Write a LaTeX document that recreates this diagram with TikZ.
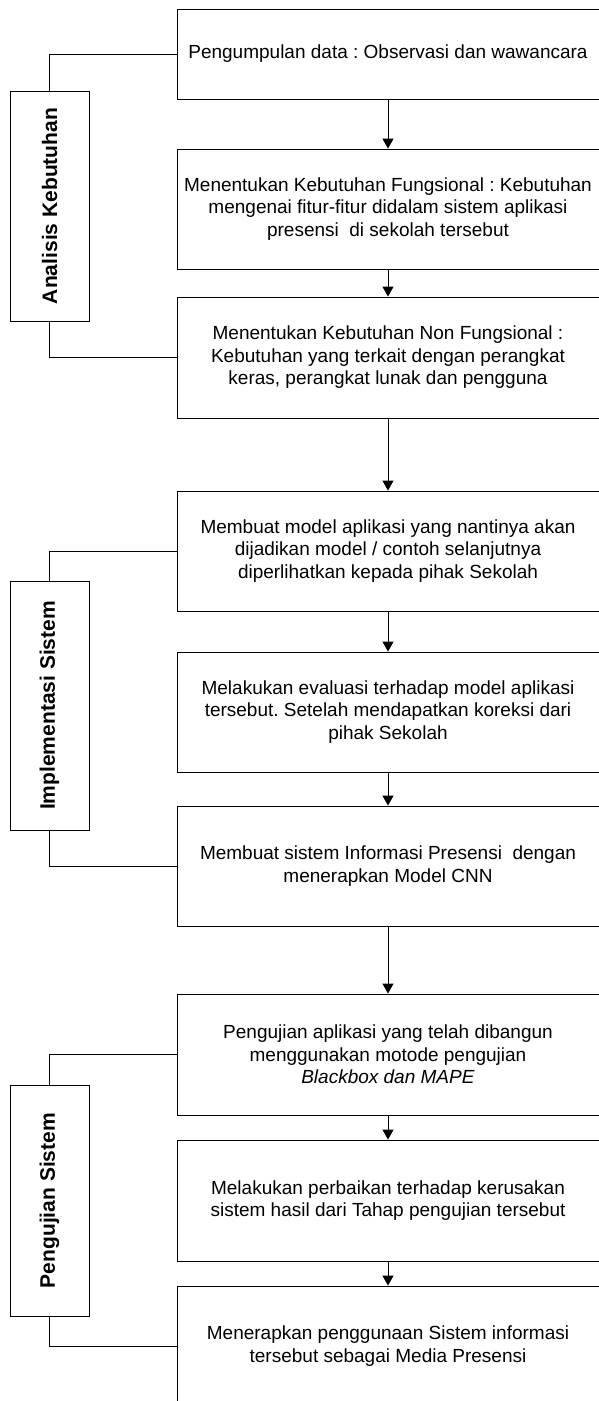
\documentclass[tikz,border=0pt]{standalone}
\usepackage{fontspec}
\setmainfont{Liberation Sans}
\usetikzlibrary{arrows.meta}
\frenchspacing
\begin{document}
\begin{tikzpicture}[x=1pt,y=-1pt,
  every node/.style={font=\fontsize{19}{22.5}\selectfont},
  stepbox/.style={draw=black,line width=0.9pt,minimum width=422pt,inner sep=0pt,align=center},
  sidebox/.style={draw=black,line width=0.9pt,minimum width=79pt,inner sep=0pt},
  sidelabel/.style={rotate=90,font=\fontsize{21}{24}\selectfont\bfseries},
  arr/.style={draw=black,line width=0.9pt,-{Triangle[width=11pt,length=10pt]}},
  link/.style={draw=black,line width=0.9pt}]
\useasboundingbox (0,0) rectangle (598,1401);
% main boxes
\node[stepbox,minimum height=90pt]  (b1) at (388,54)    {Pengumpulan data : Observasi dan wawancara};
\node[stepbox,minimum height=120pt] (b2) at (388,209)   {Menentukan Kebutuhan Fungsional : Kebutuhan\\mengenai fitur-fitur didalam sistem aplikasi\\presensi\ \ di sekolah tersebut};
\node[stepbox,minimum height=121pt] (b3) at (388,357.5) {Menentukan Kebutuhan Non Fungsional :\\Kebutuhan yang terkait dengan perangkat\\keras, perangkat lunak dan pengguna};
\node[stepbox,minimum height=120pt] (b4) at (388,551)   {Membuat model aplikasi yang nantinya akan\\dijadikan model / contoh selanjutnya\\diperlihatkan kepada pihak Sekolah};
\node[stepbox,minimum height=120pt] (b5) at (388,712)   {Melakukan evaluasi terhadap model aplikasi\\tersebut. Setelah mendapatkan koreksi dari\\pihak Sekolah};
\node[stepbox,minimum height=120pt] (b6) at (388,866)   {Membuat sistem Informasi Presensi\ \ dengan\\menerapkan Model CNN};
\node[stepbox,minimum height=121pt] (b7) at (388,1054.5){Pengujian aplikasi yang telah dibangun\\menggunakan motode pengujian\\\textit{Blackbox dan MAPE}};
\node[stepbox,minimum height=121pt] (b8) at (388,1200.5){Melakukan perbaikan terhadap kerusakan\\sistem hasil dari Tahap pengujian tersebut};
\node[stepbox,minimum height=120pt] (b9) at (388,1346)  {Menerapkan penggunaan Sistem informasi\\tersebut sebagai Media Presensi};
% arrows
\draw[arr] (b1) -- (b2);
\draw[arr] (b2) -- (b3);
\draw[arr] (b3) -- (b4);
\draw[arr] (b4) -- (b5);
\draw[arr] (b5) -- (b6);
\draw[arr] (b6) -- (b7);
\draw[arr] (b7) -- (b8);
\draw[arr] (b8) -- (b9);
% side boxes
\node[sidebox,minimum height=230pt] (ak) at (49.5,206)   {};
\node[sidelabel] (akl) at (ak) {Analisis Kebutuhan};
\node[sidebox,minimum height=249pt] (is) at (49.5,705.5) {};
\node[sidelabel] (isl) at (is) {Implementasi Sistem};
\node[sidebox,minimum height=231pt] (ps) at (49.5,1200.5){};
\node[sidelabel] (psl) at (ps) {Pengujian Sistem};
% connectors
\draw[link] (ak.north) |- (b1.west);
\draw[link] (ak.south) |- (b3.west);
\draw[link] (is.north) |- (b4.west);
\draw[link] (is.south) |- (b6.west);
\draw[link] (ps.north) |- (b7.west);
\draw[link] (ps.south) |- (b9.west);
\end{tikzpicture}
\end{document}
